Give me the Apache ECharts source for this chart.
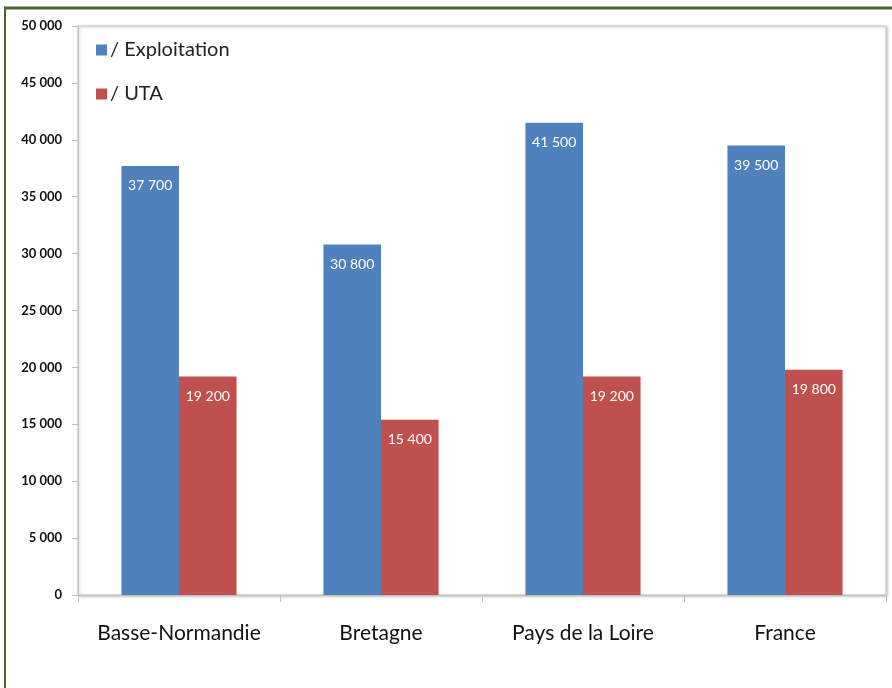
<!DOCTYPE html>
<html>
<head>
<meta charset="utf-8">
<script src="https://cdn.jsdelivr.net/npm/echarts@6/dist/echarts.min.js"></script>
<style>
  html, body { margin: 0; padding: 0; background: #fff; }
  #chart { width: 892px; height: 688px; }
</style>
</head>
<body>
<div id="chart"></div>
<script>
const categories = ["Basse-Normandie", "Bretagne", "Pays de la Loire", "France"];
const seriesNames = ["/ Exploitation", "/ UTA"];
const exploitation = [37700, 30800, 41500, 39500];
const uta = [19200, 15400, 19200, 19800];

const fmt = (v) => String(v).replace(/\B(?=(\d{3})+(?!\d))/g, " ");
const font = "Lato, 'Open Sans', sans-serif";

const chart = echarts.init(document.getElementById("chart"));
chart.setOption({
  animation: false,
  textStyle: { fontFamily: font },
  graphic: [
    { type: "line", shape: { x1: 4, y1: 8, x2: 892, y2: 8 }, style: { stroke: "#4f6228", lineWidth: 3 } },
    { type: "line", shape: { x1: 5, y1: 7, x2: 5, y2: 688 }, style: { stroke: "#4f6228", lineWidth: 2 } }
  ],
  grid: {
    left: 78, right: 6, top: 26, bottom: 93,
    show: true, borderColor: "#c8c8c8", borderWidth: 1,
    shadowColor: "rgba(0,0,0,0.25)", shadowBlur: 3, shadowOffsetX: 1, shadowOffsetY: 1,
    backgroundColor: "#fff"
  },
  legend: {
    orient: "vertical",
    left: 96, top: 40, padding: 0,
    itemWidth: 11, itemHeight: 11, itemGap: 24,
    icon: "rect",
    textStyle: { fontSize: 20, color: "#222", fontFamily: font, padding: [0, 0, 0, -2] },
    data: seriesNames
  },
  xAxis: {
    type: "category",
    data: categories,
    axisLine: { lineStyle: { color: "#bdbdbd" } },
    axisTick: { show: true, interval: 0, length: 7, lineStyle: { color: "#bdbdbd" } },
    axisLabel: { interval: 0, fontSize: 21, color: "#111", margin: 28, fontFamily: font }
  },
  yAxis: {
    type: "value",
    min: 0, max: 50000, interval: 5000,
    axisLine: { show: true, lineStyle: { color: "#bdbdbd" } },
    axisTick: { show: true, length: 6, lineStyle: { color: "#bdbdbd" } },
    splitLine: { show: false },
    axisLabel: { fontSize: 13, fontWeight: "bold", color: "#111", margin: 16, formatter: fmt, fontFamily: font }
  },
  series: [
    {
      name: seriesNames[0], type: "bar", data: exploitation,
      barWidth: "28.5%", barGap: "0%",
      itemStyle: { color: "#4f81bd" },
      label: { show: true, position: "insideTop", distance: 13, color: "#fff", fontSize: 14, formatter: (p) => fmt(p.value) }
    },
    {
      name: seriesNames[1], type: "bar", data: uta,
      barWidth: "28.5%", barGap: "0%",
      itemStyle: { color: "#c0504d" },
      label: { show: true, position: "insideTop", distance: 13, color: "#fff", fontSize: 14, formatter: (p) => fmt(p.value) }
    }
  ]
});
</script>
</body>
</html>
